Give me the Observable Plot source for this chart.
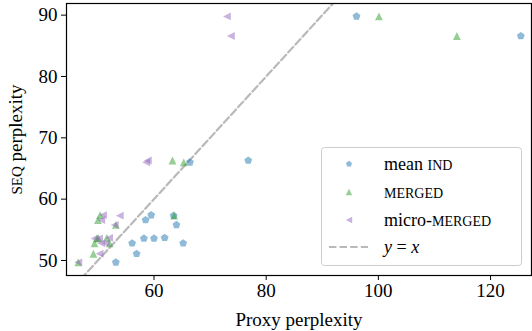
<!DOCTYPE html>
<html>
<head>
<meta charset="utf-8">
<script src="https://cdn.jsdelivr.net/npm/d3@7"></script>
<script src="https://cdn.jsdelivr.net/npm/@observablehq/plot@0.6"></script>
<style>
  html, body { margin: 0; padding: 0; background: #fff; }
  #chart { position: relative; width: 532px; height: 331px; }
</style>
</head>
<body>
<div id="chart"></div>
<script>
// SEQ perplexity (y) shared by every series
const seqPerplexity = [89.8, 86.6, 66.0, 66.3, 57.4, 57.3, 56.6, 55.8, 53.7, 53.6, 53.6, 52.8, 52.8, 51.1, 49.7];
// Proxy perplexity (x) for each series
const meanIND     = [96.1, 125.4, 66.4, 76.8, 59.5, 63.5, 58.5, 64.0, 61.9, 60.0, 58.2, 56.1, 65.2, 56.9, 53.2];
const merged      = [100.1, 114.0, 65.3, 63.3, 50.4, 63.6, 50.0, 53.2, 51.6, 50.1, 49.8, 49.4, 52.1, 49.2, 46.5];
const microMerged = [73.0, 73.7, 58.6, 58.9, 50.9, 53.9, 50.6, 53.0, 52.0, 49.4, 50.2, 50.6, 51.4, 50.3, 46.5];

const seriesNames = ["mean IND", "MERGED", "micro-MERGED"];
const xTicks = [60, 80, 100, 120];
const yTicks = [50, 60, 70, 80, 90];
const xDomain = [44.4, 127.3];
const yDomain = [47.55, 91.9];

const colors = ["#1f77b4", "#2ca02c", "#9467bd"];

// custom matplotlib-like marker shapes
const pentagon = {draw(ctx, size) {
  const r = Math.sqrt(size / Math.PI);
  for (let k = 0; k < 5; k++) {
    const a = -Math.PI / 2 + k * 2 * Math.PI / 5;
    const px = r * Math.cos(a), py = r * Math.sin(a);
    k ? ctx.lineTo(px, py) : ctx.moveTo(px, py);
  }
  ctx.closePath();
}};
const triUp = {draw(ctx, size) {
  const h = Math.sqrt(size / Math.PI);
  ctx.moveTo(0, -h); ctx.lineTo(h, h); ctx.lineTo(-h, h); ctx.closePath();
}};
const triLeft = {draw(ctx, size) {
  const h = Math.sqrt(size / Math.PI);
  ctx.moveTo(-h, 0); ctx.lineTo(h, -h); ctx.lineTo(h, h); ctx.closePath();
}};
const symbols = [pentagon, triUp, triLeft];
const sizes = [4.1, 3.9, 3.9];

const seriesX = [meanIND, merged, microMerged];
const tables = seriesX.map((xs, i) => xs.map((x, j) => ({x, y: seqPerplexity[j], s: seriesNames[i]})));

const diag = [{v: Math.min(xDomain[0], yDomain[0])}, {v: Math.max(xDomain[1], yDomain[1])}];

const font = "'Liberation Serif', 'DejaVu Serif', serif";

const plot = Plot.plot({
  width: 532,
  height: 331,
  marginLeft: 66,
  marginRight: 1,
  marginTop: 3,
  marginBottom: 56,
  style: {fontFamily: font, fontSize: "19px", color: "#000", background: "#fff"},
  x: {domain: xDomain},
  y: {domain: yDomain},
  marks: [
    Plot.line(diag, {x: "v", y: "v", stroke: "#808080", strokeOpacity: 0.55, strokeWidth: 2.2, strokeDasharray: "7.4,3.2", clip: true}),
    ...tables.map((t, i) => Plot.dot(t, {x: "x", y: "y", symbol: () => symbols[i], r: sizes[i], fill: colors[i], fillOpacity: 0.5, stroke: "none"})),
    Plot.frame({stroke: "#000", strokeWidth: 1.2}),
    Plot.axisX({ticks: xTicks, tickSize: 5, tickPadding: 3, tickFormat: d => String(d), fontSize: 19,
      label: "Proxy perplexity", labelAnchor: "center", labelArrow: "none", labelOffset: 50}),
    Plot.axisY({ticks: yTicks, tickSize: 5, tickPadding: 4, tickFormat: d => String(d), fontSize: 19,
      label: "SEQ perplexity", labelAnchor: "center", labelArrow: "none", labelOffset: 58})
  ]
});

document.getElementById("chart").appendChild(plot);

const svg = d3.select(plot);

// small caps for "SEQ" in y label
svg.selectAll('g[aria-label="y-axis label"] text').each(function() {
  const t = d3.select(this);
  t.text(null);
  t.append("tspan").style("font-size", "15px").text("SEQ");
  t.append("tspan").text(" perplexity");
});

// legend
const lg = svg.append("g").attr("transform", "translate(321,147)")
  .style("font-family", font).style("font-size", "18px").attr("text-anchor", "start");
lg.append("rect").attr("x", 0.5).attr("y", 0.5).attr("width", 200).attr("height", 118).attr("rx", 3)
  .attr("fill", "#fff").attr("fill-opacity", 0.8).attr("stroke", "#cccccc").attr("stroke-width", 1);
const rowY = [17, 45, 73, 100];
const legendLabels = [
  [["mean ", null], ["IND", "14px"]],
  [["MERGED", "14px"]],
  [["micro-", null], ["MERGED", "14px"]]
];
symbols.forEach((sym, i) => {
  lg.append("path").attr("transform", `translate(28,${rowY[i]})`)
    .attr("d", d3.symbol(sym, Math.PI * 3.2 * 3.2)())
    .attr("fill", colors[i]).attr("fill-opacity", 0.5);
  const tx = lg.append("text").attr("x", 63).attr("y", rowY[i]).attr("dy", "0.35em")
    .attr("text-anchor", "start").style("font-family", font).style("font-size", "18px");
  legendLabels[i].forEach(([s, fs]) => {
    const ts = tx.append("tspan").text(s);
    if (fs) ts.style("font-size", fs);
  });
});
lg.append("line").attr("x1", 8).attr("x2", 47).attr("y1", rowY[3]).attr("y2", rowY[3])
  .attr("stroke", "#808080").attr("stroke-opacity", 0.55).attr("stroke-width", 2.2).attr("stroke-dasharray", "7.4,3.2");
const yx = lg.append("text").attr("x", 63).attr("y", rowY[3]).attr("dy", "0.35em")
  .attr("text-anchor", "start").style("font-family", font).style("font-size", "18px");
yx.append("tspan").style("font-style", "italic").text("y");
yx.append("tspan").text(" = ");
yx.append("tspan").style("font-style", "italic").text("x");
</script>
</body>
</html>
